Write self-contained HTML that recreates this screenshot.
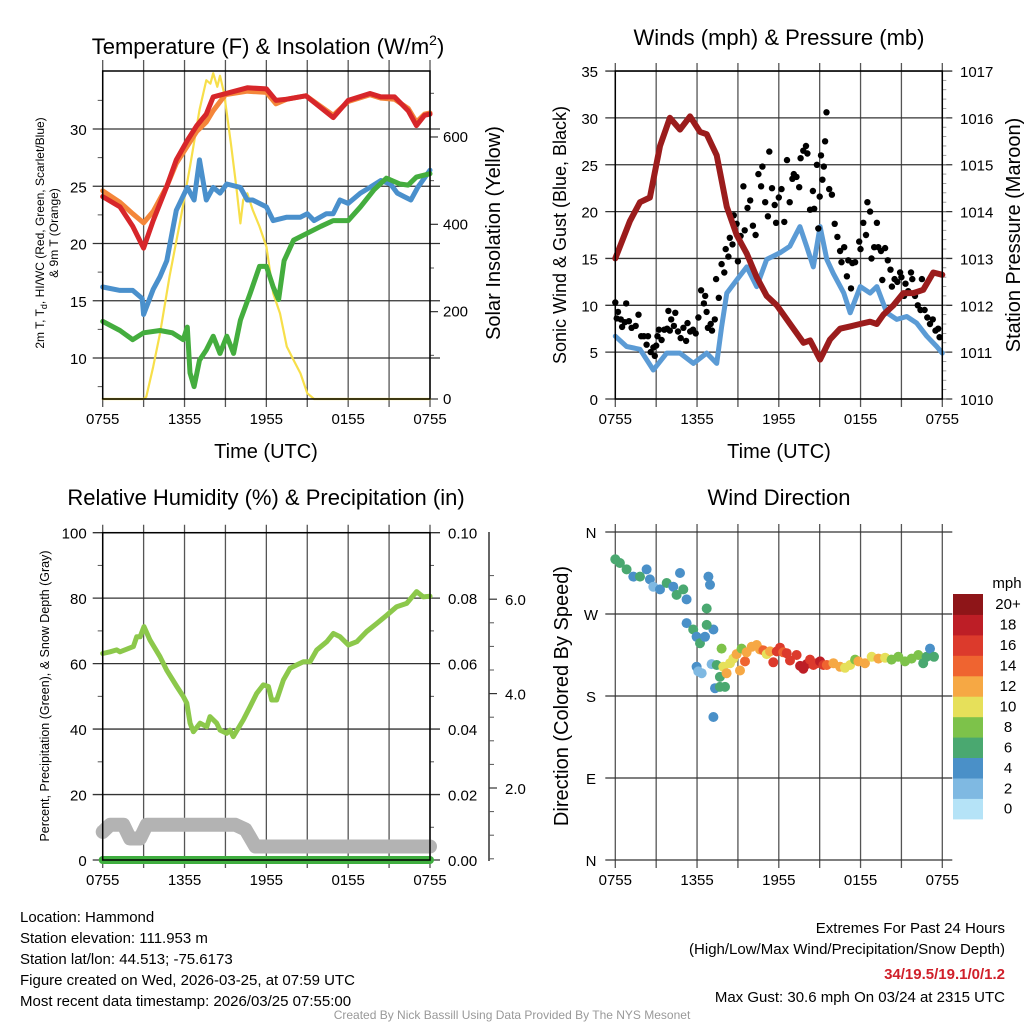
<!DOCTYPE html>
<html><head><meta charset="utf-8"><style>
body{margin:0;background:#fff;}
svg{display:block;font-family:"Liberation Sans",sans-serif;}
</style></head><body>
<svg id="s" width="1024" height="1024" viewBox="0 0 1024 1024">
<g id="g"></g>
</svg>
<script>
// ---- time axis (hours since 0755) ----
const xTicks=['0755','1355','1955','0155','0755'];
// Panel 1 data
const redT=[0,1.27,2.2,3,3.7,4.7,5.4,6.2,6.9,7.6,8.1,10.6,12.0,12.7,13.5,14.9,16.9,18.0,19.6,20.4,21.4,22.4,23.0,23.6,24];
const redV=[24.1,23.2,21.5,19.6,22,25,27.3,29,30.3,31.3,32.8,33.6,33.5,32.5,32.6,32.9,31,32.5,33.1,32.8,32.8,31.6,30.3,31.2,31.3];
const orgT=[0,1.27,2.2,3,3.7,4.7,5.4,6.2,6.9,7.6,8.1,9,10.6,12.0,12.7,13.5,14.9,16.9,18.0,19.6,20.4,21.4,22.4,23.0,23.6,24];
const orgV=[24.6,23.6,22.6,21.8,22.8,25,27,28.5,29.8,30.6,31.6,33,33.3,33.2,32.2,32.6,32.9,31.2,32.4,33,32.7,32.6,31.8,30.6,31.3,31.4];
const bluT=[0,1.27,2.2,2.9,3.0,3.7,4.2,4.7,5.4,6.2,6.7,7.1,7.6,8.1,8.6,9.1,10.1,10.6,11.0,12.0,12.5,13.5,14.5,15.0,15.5,16.4,16.9,17.4,18.0,18.9,19.6,20.4,21.1,21.6,22.1,22.6,23.1,24];
const bluV=[16.2,15.9,15.9,15.2,13.8,16.0,17.1,18.5,22.9,24.9,23.8,27.3,23.8,24.9,24.4,25.2,24.9,23.8,23.8,23.2,22,22.3,22.3,22.6,22,22.6,22.6,23.8,23.5,24.4,24.9,25.5,25.2,24.4,24.1,23.8,24.9,26.4];
const grnT=[0,1.27,2.2,3.0,4.2,5.1,5.9,6.2,6.4,6.7,7.1,7.6,8.1,8.6,9.1,9.6,10.1,10.8,11.5,12.0,12.5,12.9,13.3,14.0,15.0,16.0,16.9,18.0,18.9,19.9,20.8,21.8,22.4,23.0,24];
const grnV=[13.2,12.4,11.6,12.2,12.4,12.2,11.6,12.7,8.7,7.5,9.8,10.7,11.9,10.4,11.9,10.4,13.3,15.6,18,18,16.2,15.1,18.5,20.3,20.9,21.5,22,22,23.2,24.7,25.7,25.2,25.1,25.8,26.1];
const solT=[0,3.0,3.2,3.7,4.2,4.9,5.7,6.4,7.1,7.6,7.9,8.1,8.4,8.6,8.9,9.4,9.8,10.1,10.3,10.6,11.0,11.5,12.0,12.5,13.0,13.5,14.0,14.5,15.0,15.5,24];
const solV=[0,0,5,74,150,280,410,532,662,730,722,746,715,740,700,585,486,402,456,471,433,395,349,242,196,120,89,59,13,0,0];
// Panel 2 data
const presT=[0,0.34,1.08,1.81,2.54,3.28,4.01,4.75,5.48,6.22,6.71,7.44,8.18,8.91,9.65,10.38,11.11,11.85,12.83,13.81,14.3,15.03,15.76,16.5,17.23,17.96,18.7,19.19,19.68,20.41,21.14,21.87,22.6,23.34,24];
const presV=[1013.0,1013.25,1013.8,1014.2,1014.3,1015.4,1016.0,1015.75,1016.03,1015.7,1015.65,1015.2,1014.1,1013.5,1013.1,1012.6,1012.2,1012.0,1011.6,1011.2,1011.25,1010.84,1011.27,1011.5,1011.55,1011.6,1011.65,1011.6,1011.8,1012.0,1012.26,1012.26,1012.33,1012.7,1012.65];
const windT=[0,0.83,1.81,2.79,3.77,4.75,5.73,6.71,7.44,7.8,8.18,8.91,9.65,10.38,11.11,12.09,12.81,13.55,14.04,14.53,15.03,15.52,16.0,16.77,17.24,17.98,18.7,19.2,19.93,20.66,21.39,22.12,22.86,23.59,24];
const windV=[6.7,5.6,5.3,3.1,4.9,4.9,3.8,4.9,3.8,7.7,11.3,12.7,14.1,12,14.9,15.6,16.3,18.4,16.3,14.1,18.4,14.9,13.4,11.3,9.2,12,11.3,12,9.2,8.5,8.8,8.1,6.7,5.6,4.9];
const gustT=[0,0.1,0.2,0.4,0.5,0.7,0.8,1,1.2,1.5,1.7,1.9,2.1,2.3,2.4,2.6,2.8,2.9,3.0,3.1,3.2,3.4,3.6,3.8,3.9,4.0,4.1,4.3,4.4,4.6,4.8,5.0,5.2,5.3,5.5,5.7,5.9,6.1,6.3,6.5,6.6,6.7,6.8,7.0,7.1,7.3,7.4,7.6,7.8,8.0,8.1,8.3,8.4,8.6,8.7,8.9,9.0,9.2,9.4,9.5,9.7,9.9,10.1,10.3,10.5,10.7,10.8,11.0,11.2,11.3,11.5,11.7,11.8,12.0,12.2,12.4,12.6,12.8,13.0,13.1,13.3,13.5,13.6,13.8,14.0,14.1,14.3,14.5,14.6,14.8,14.9,15.0,15.1,15.2,15.3,15.4,15.5,15.7,15.9,16.1,16.3,16.5,16.6,16.8,17.0,17.1,17.3,17.4,17.6,17.9,18.0,18.2,18.4,18.5,18.7,18.8,19.0,19.2,19.3,19.5,19.6,19.8,20.0,20.2,20.3,20.5,20.7,20.9,21.0,21.2,21.3,21.5,21.7,21.8,22.0,22.2,22.4,22.5,22.7,22.9,23.1,23.3,23.5,23.7,23.8];
const gustV=[10.3,8.6,9.3,8.5,7.7,8.2,10.2,8.3,7.6,7.8,9,6.7,6.7,5.8,6.7,5,5.5,4.6,5.7,6.7,7.4,6.3,7.4,7.5,9.4,7.3,8.5,7.8,9.2,7.2,6.5,7.6,6.2,8.1,7.2,7.4,7.0,8.7,11.6,10.2,11,9.3,7.6,8.0,7.3,8.5,12.8,10.8,14.4,13.5,16.0,15.2,17.2,16.5,19.6,18.7,14.7,17.4,22.7,18.0,20.4,21.2,18.5,17.5,24,22.7,24.8,21.0,19.5,26.4,22.5,20.7,18.8,21.5,22.4,18.9,25.5,21.0,23.5,24,23.7,22.6,25.7,26.5,27.0,26.2,20.2,22.2,20.3,25,18.2,21.6,26,23.4,24.8,27.5,30.6,22.4,21.8,18.7,17.3,15.8,14.6,16.2,13.1,14.8,11.8,14.5,14.6,16.8,16.0,18.8,17.5,21.0,20.0,15.0,16.2,18.8,16.2,15.8,12.7,16.1,14.8,13.8,12.0,12.8,12.5,13.5,13.0,11.0,12.3,11.5,13.5,12.8,11.0,10.0,9.5,12.8,9.5,8.7,8.0,8.5,7.3,7.5,6.6];
// Panel 3 data
const rhT=[0,0.54,1.03,1.27,1.76,2.25,2.49,2.74,3.03,3.47,4.2,4.69,5.43,5.92,6.17,6.41,6.65,7.14,7.63,7.87,8.36,8.6,9.09,9.34,9.58,10.31,10.8,11.29,11.78,12.15,12.39,12.76,13.25,13.74,14.23,14.72,15.21,15.7,16.43,16.92,17.41,18.02,18.63,19.36,20.1,20.83,21.56,22.29,23.02,23.51,24];
const rhV=[63.1,63.6,64.2,63.6,64.4,65.2,68.2,68.2,71.3,67.2,62.1,58,53,49.9,47.9,41.8,39.2,41.8,40.7,43.8,41.8,39.7,38.7,39.7,37.7,42.8,46.8,50.9,53.5,53,48.9,48.9,55,58.6,59.6,60.6,60.6,64.2,66.7,69.2,68.2,65.7,66.7,69.8,72.3,74.8,77.4,78.4,82,80.4,80.6];
const snowT=[0,0.54,1.52,2.0,2.74,3.23,9.73,10.47,11.2,24];
const snowV=[1.07,1.22,1.22,0.93,0.93,1.22,1.22,1.12,0.76,0.76];
const precT=[0,24];
const precV=[0,0];
// Panel 4 data
const dirT=[0,0.34,0.83,1.32,1.81,2.3,2.54,2.79,3.28,3.77,4.26,4.5,4.75,4.99,5.23,5.23,5.72,5.97,6.22,6.58,6.71,6.83,6.95,7.2,5.97,6.09,6.34,6.71,7.07,7.32,7.44,7.68,7.8,7.93,8.17,8.42,8.66,8.9,9.15,9.27,9.52,9.64,10.01,10.38,10.62,10.87,11.11,11.36,11.6,11.85,12.09,12.33,12.58,12.82,13.31,13.56,13.8,14.05,14.29,14.54,14.78,15.03,15.27,15.52,16.01,16.5,16.86,17.23,17.6,17.84,18.33,18.82,19.31,19.8,20.28,20.77,21.26,21.75,22.24,22.6,22.85,23.1,23.39,7.2,7.68,8.05];
const dirV=[330,326,319,311,311,319,308,300,297,304,300,291,315,297,286,260,253,245,238,245,276,311,302,253,212,207,205,258,215,188.6,214,201,232,212,205,216,221,226,208,232,218,228,234,236,231,230,226,229,217,229,233,228,227,219,225,213,210,215,220,214,216,218,214,214,216,212,211,214,220,218,216,223,221,222,220,223,218,221,225,216,223,232,223,157,190,190];
const dirS=[6,6,6,5,6,4,4,2,4,6,4,6,4,6,4,4,6,4,6,4,6,4,4,4,4,2,2,6,2,4,6,6,8,10,12,10,10,12,12,8,14,12,12,12,12,14,10,12,16,16,16,14,16,16,16,18,18,18,16,16,16,18,16,14,12,12,10,10,8,12,12,10,12,10,8,8,8,8,8,6,6,4,6,4,6,6];
const cbarLabels=['0','2','4','6','8','10','12','14','16','18','20+'];
const cbarColors=['#b5e3f7','#7fb9e2','#4a90c8','#4aa870','#7dc24a','#e6e05a','#f6a844','#ef6430','#dc3a2c','#bd1e26','#8e1518'];

// ---- helpers ----
const NS='http://www.w3.org/2000/svg';
const root=document.getElementById('g');
function el(tag,attrs,parent){const e=document.createElementNS(NS,tag);for(const k in attrs)e.setAttribute(k,attrs[k]);(parent||root).appendChild(e);return e;}
function txt(s,x,y,size,anchor,extra){const e=el('text',Object.assign({x:x,y:y,'font-size':size,'text-anchor':anchor||'middle',fill:'#000'},extra||{}));e.textContent=s;return e;}
function line(x1,y1,x2,y2,stroke,w){return el('line',{x1:x1,y1:y1,x2:x2,y2:y2,stroke:stroke,'stroke-width':w});}

function panelFrame(px0,px1,py0,py1,name){
  const g=el('g',{});
  
  
  return g;
}
function xScale(px0,px1){return t=>px0+t*(px1-px0)/24;}
function vgrid(X,py0,py1,g){
  for(let t=0;t<=24;t+=3){const l=line(X(t),py0-8,X(t),py1+8,'#555',1.3);g.appendChild(l);
    }
  xTicks.forEach((s,i)=>{const t=txt(s,X(i*6),py1+25,15);g.appendChild(t);
    });
}
function hgrid(y,px0,px1,g){const l=line(px0-10,y,px1+10,y,'#333',1.3);g.appendChild(l);
  }
function poly(T,V,X,Y,color,w,g,name){
  const pts=T.map((t,i)=>X(t).toFixed(1)+','+Y(V[i]).toFixed(1)).join(' ');
  const p=el('polyline',{points:pts,fill:'none',stroke:color,'stroke-width':w,'stroke-linejoin':'round','stroke-linecap':'round'},g);
  return p;
}

// ===== Panel 1 =====
(function(){
  const px0=102.7,px1=430,py0=68,py1=399;
  const g=panelFrame(px0,px1,py0,py1,'temperature-panel');
  const X=xScale(px0,px1);
  const Y=v=>358-(v-10)*11.45;
  const YS=w=>399-w*0.4367;
  const t=txt('',268,54,22);t.innerHTML='Temperature (F) &amp; Insolation (W/m<tspan font-size="14" dy="-9">2</tspan><tspan dy="9">)</tspan>';
  
  vgrid(X,py0,py1,g);
  [10,15,20,25,30].forEach(v=>{hgrid(Y(v),px0,px1,g);const l=txt(String(v),px0-16,Y(v)+6,15,'end');g.appendChild(l);
    });
  for(let v=7.5;v<35;v+=2.5){if(v%5)g.appendChild(line(px0-5,Y(v),px0,Y(v),'#555',1));}
  [0,200,400,600].forEach(w=>{g.appendChild(line(px1,YS(w),px1+8,YS(w),'#333',1.2));const l=txt(String(w),px1+13,YS(w)+5,15,'start');g.appendChild(l);
    });
  for(let w=100;w<=700;w+=200)g.appendChild(line(px1,YS(w),px1+4,YS(w),'#555',1));
  poly(solT,solV,X,YS,'#f7df4a',2.2,g,'insolation-line');
  poly(orgT,orgV,X,Y,'#f4863a',5,g,'9m-temp-line');
  poly(redT,redV,X,Y,'#d7262a',5,g,'2m-temp-line');
  poly(bluT,bluV,X,Y,'#4a90cc',5,g,'windchill-line');
  poly(grnT,grnV,X,Y,'#44ad3e',5,g,'dewpoint-line');
  const fr=el('rect',{x:px0,y:py0+3,width:px1-px0,height:py1-py0-3,fill:'none',stroke:'#000','stroke-width':1.5},g);
  
  const yt=txt('',0,0,12);yt.setAttribute('transform','translate(44,233) rotate(-90)');
  yt.innerHTML='<tspan x="0" dy="0">2m T, T<tspan font-size="9" dy="3">d</tspan><tspan dy="-3">, HI/WC (Red, Green, Scarlet/Blue)</tspan></tspan><tspan x="0" dy="14">&amp; 9m T (Orange)</tspan>';
  
  const rt=txt('Solar Insolation (Yellow)',0,0,20);rt.setAttribute('transform','translate(500,233) rotate(-90)');
  
  const xt=txt('Time (UTC)',266,458,20);
})();

// ===== Panel 2 =====
(function(){
  const px0=615.3,px1=942.3,py0=71,py1=399;
  const g=panelFrame(px0,px1,py0,py1,'winds-panel');
  const X=xScale(px0,px1);
  const Y=v=>399-v*9.37;
  const YP=p=>399-(p-1010)*46.86;
  const t=txt('Winds (mph) &amp; Pressure (mb)',779,45,22);t.textContent='Winds (mph) & Pressure (mb)';
  
  vgrid(X,py0,py1,g);
  for(let v=0;v<=35;v+=5){hgrid(Y(v),px0,px1,g);const l=txt(String(v),598,Y(v)+6,15,'end');g.appendChild(l);
    }
  for(let p=1010;p<=1017;p++){const l=txt(String(p),960,YP(p)+6,15,'start');g.appendChild(l);
    }
  for(let p=1010;p<1017;p+=0.2)g.appendChild(line(px1,YP(p),px1+4,YP(p),'#888',0.8));
  poly(windT,windV,X,Y,'#5b9bd5',5,g,'sonic-wind-line');
  gustT.forEach((tt,i)=>{const c=el('circle',{cx:X(tt).toFixed(1),cy:Y(gustV[i]).toFixed(1),r:3.2,fill:'#000'},g);
    });
  poly(presT,presV,X,YP,'#9b1c1c',6,g,'pressure-line');
  const fr=el('rect',{x:px0,y:py0,width:px1-px0,height:py1-py0,fill:'none',stroke:'#000','stroke-width':1.5},g);
  
  const yt=txt('Sonic Wind & Gust (Blue, Black)',0,0,18);yt.setAttribute('transform','translate(566,235) rotate(-90)');
  
  const rt=txt('Station Pressure (Maroon)',0,0,20);rt.setAttribute('transform','translate(1020,235) rotate(-90)');
  
  const xt=txt('Time (UTC)',779,458,20);
})();

// ===== Panel 3 =====
(function(){
  const px0=102.7,px1=430,py0=532.7,py1=860;
  const g=panelFrame(px0,px1,py0,py1,'humidity-panel');
  const X=xScale(px0,px1);
  const Y=v=>860-v*3.273;
  const YN=s=>788-(s-2)*47.2;
  const t=txt('',266,505,22);t.textContent='Relative Humidity (%) & Precipitation (in)';
  
  vgrid(X,py0,py1,g);
  for(let v=0;v<=100;v+=20){hgrid(Y(v),px0,px1,g);const l=txt(String(v),px0-16,Y(v)+6,15,'end');g.appendChild(l);
    
    const r=txt((v/1000).toFixed(2),448,Y(v)+6,15,'start');g.appendChild(r);
    }
  for(let v=10;v<100;v+=20){g.appendChild(line(px0-5,Y(v),px0,Y(v),'#555',1));g.appendChild(line(px1,Y(v),px1+4,Y(v),'#555',1));}
  g.appendChild(line(489,532,489,861,'#333',1.5));
  [2,4,6].forEach(s=>{g.appendChild(line(489,YN(s),497,YN(s),'#333',1.2));const l=txt(s.toFixed(1),505,YN(s)+6,15,'start');g.appendChild(l);
    });
  for(let s=0.5;s<6.6;s+=0.5){if(s%2)g.appendChild(line(489,YN(s),494,YN(s),'#555',1));}
  poly(snowT,snowV,X,YN,'#b3b3b3',14,g,'snow-depth-line');
  poly(precT,precV,X,v=>Y(v*1000),'#3fae3f',8,g,'precip-line');
  poly(rhT,rhV,X,Y,'#8cc84b',5,g,'rh-line');
  const fr=el('rect',{x:px0,y:py0,width:px1-px0,height:py1-py0,fill:'none',stroke:'#000','stroke-width':1.5},g);
  
  const yt=txt('Percent, Precipitation (Green), & Snow Depth (Gray)',0,0,12.5);yt.setAttribute('transform','translate(49,696) rotate(-90)');
  
})();

// ===== Panel 4 =====
(function(){
  const px0=615.3,px1=942.3,py0=532,py1=860;
  const g=panelFrame(px0,px1,py0,py1,'wind-direction-panel');
  const X=xScale(px0,px1);
  const Y=d=>860-d*(328/360);
  const t=txt('',779,505,22);t.textContent='Wind Direction';
  
  vgrid(X,py0,py1,g);
  ['N','E','S','W','N'].forEach((s,i)=>{hgrid(Y(i*90),px0,px1,g);const l=txt(s,591,Y(i*90)+6,15);g.appendChild(l);
    });
  dirT.forEach((tt,i)=>{const c=el('circle',{cx:X(tt).toFixed(1),cy:Y(dirV[i]).toFixed(1),r:5,fill:cbarColors[Math.min(10,Math.floor(dirS[i]/2))]},g);
    });
  const yt=txt('Direction (Colored By Speed)',0,0,20);yt.setAttribute('transform','translate(568,696) rotate(-90)');
  
  const cb=el('g',{},g);
  const h=20.45;
  cbarColors.forEach((c,i)=>{const yy=594+(10-i)*h;el('rect',{x:953,y:yy.toFixed(1),width:30,height:(h+0.5).toFixed(1),fill:c},cb);
    const l=txt(cbarLabels[i],1008,yy+h/2+5,15);cb.appendChild(l);
    });
  const m=txt('mph',1007,588,15);
})();

// ===== Footer =====
(function(){
  const L=['Location: Hammond','Station elevation: 111.953 m','Station lat/lon: 44.513; -75.6173','Figure created on Wed, 2026-03-25, at 07:59 UTC','Most recent data timestamp: 2026/03/25 07:55:00'];
  L.forEach((s,i)=>{const t=txt(s,20,922+i*21,15,'start');});
  const R=[['Extremes For Past 24 Hours',933],['(High/Low/Max Wind/Precipitation/Snow Depth)',954]];
  R.forEach(r=>{const t=txt(r[0],1005,r[1],15,'end');});
  const v=txt('34/19.5/19.1/0/1.2',1005,979,15,'end',{fill:'#d0202a','font-weight':'bold'});
  
  const mg=txt('Max Gust: 30.6 mph On 03/24 at 2315 UTC',1005,1002,15,'end');
  
  const c=txt('Created By Nick Bassill Using Data Provided By The NYS Mesonet',512,1019,12,'middle',{fill:'#999'});
  
})();
</script>
</body></html>
